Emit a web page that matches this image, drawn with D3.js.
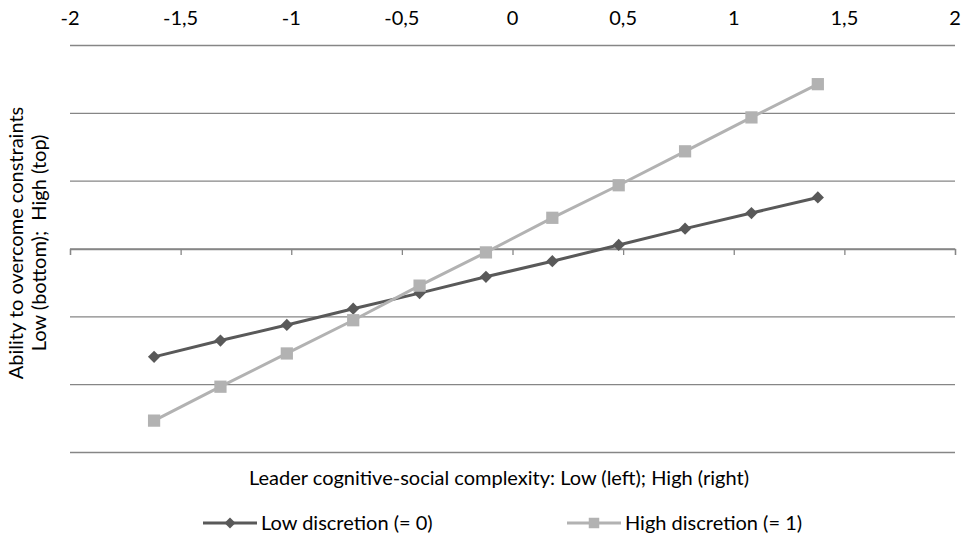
<!DOCTYPE html>
<html>
<head>
<meta charset="utf-8">
<script src="https://cdn.jsdelivr.net/npm/d3@7"></script>
<style>
  body { margin: 0; background: #fff; }
  text { font-family: Lato, "Open Sans", sans-serif; fill: #000; }
</style>
</head>
<body>
<svg id="chart"></svg>
<script>
// data
const xValues = [-1.62, -1.32, -1.02, -0.72, -0.42, -0.12, 0.18, 0.48, 0.78, 1.08, 1.38];
const lowDiscretion = [-1.59, -1.35, -1.12, -0.88, -0.65, -0.41, -0.18, 0.06, 0.30, 0.53, 0.76];
const highDiscretion = [-2.53, -2.03, -1.54, -1.05, -0.54, -0.05, 0.46, 0.94, 1.44, 1.94, 2.43];
const xTicks = [-2, -1.5, -1, -0.5, 0, 0.5, 1, 1.5, 2];
const yGrid = [-3, -2, -1, 0, 1, 2, 3];
const seriesNames = ["Low discretion (= 0)", "High discretion (= 1)"];

const width = 968, height = 541;
const margin = { top: 46, right: 13, bottom: 89, left: 70 };
const fontSize = 20;

const svg = d3.select("#chart")
    .attr("width", width)
    .attr("height", height);

const x = d3.scaleLinear()
    .domain([-2, 2])
    .range([margin.left, width - margin.right]);

const y = d3.scaleLinear()
    .domain([-3, 3])
    .range([height - margin.bottom + 0.5, margin.top - 0.5]);

const fmt = d => String(d).replace(".", ",");

// gridlines
svg.append("g")
    .selectAll("line")
    .data(yGrid)
    .join("line")
    .attr("x1", x(-2))
    .attr("x2", x(2))
    .attr("y1", d => y(d))
    .attr("y2", d => y(d))
    .attr("stroke", "#868686")
    .attr("stroke-width", 1.3);

// x axis line at y = 0, ticks pointing down
const xAxis = svg.append("g")
    .attr("transform", `translate(0,${y(0)})`)
    .call(d3.axisBottom(x).tickValues(xTicks).tickSize(6).tickFormat(""));
xAxis.select(".domain").attr("stroke", "#868686").attr("stroke-width", 1.3);
xAxis.selectAll(".tick line").attr("stroke", "#868686").attr("stroke-width", 1.3);

// tick labels on top
svg.append("g")
    .selectAll("text")
    .data(xTicks)
    .join("text")
    .attr("x", d => x(d))
    .attr("y", 25)
    .attr("text-anchor", "middle")
    .attr("font-size", fontSize)
    .text(fmt);

const line = d3.line()
    .x((d, i) => x(xValues[i]))
    .y(d => y(d));

const lowColor = "#595959", highColor = "#b2b2b2";

// rotated square for the diamond, like the spreadsheet marker
function drawSeries(values, color, rot, size) {
    const g = svg.append("g");
    g.append("path")
        .datum(values)
        .attr("d", line)
        .attr("fill", "none")
        .attr("stroke", color)
        .attr("stroke-width", 3);
    g.selectAll("path.pt")
        .data(values)
        .join("path")
        .attr("class", "pt")
        .attr("transform", (d, i) => `translate(${x(xValues[i])},${y(d)}) rotate(${rot})`)
        .attr("d", d3.symbol().type(d3.symbolSquare).size(size))
        .attr("fill", color);
}

drawSeries(lowDiscretion, lowColor, 45, 75);
drawSeries(highDiscretion, highColor, 0, 150);

// axis titles
svg.append("text")
    .attr("x", 499)
    .attr("y", 485)
    .attr("text-anchor", "middle")
    .attr("font-size", fontSize)
    .text("Leader cognitive-social complexity: Low (left); High (right)");

const yTitle = svg.append("text")
    .attr("transform", "translate(23,243) rotate(-90)")
    .attr("text-anchor", "middle")
    .attr("font-size", fontSize)
    .attr("xml:space", "preserve");
yTitle.append("tspan").attr("x", 0).attr("dy", 0).text("Ability to overcome constraints");
yTitle.append("tspan").attr("x", 0).attr("dy", 23).text("Low (bottom);\u00a0 High (top)");

// legend
const legend = svg.append("g").attr("transform", "translate(0,523)");
const legendItems = [
    { name: seriesNames[0], color: lowColor, rot: 45, size: 60, x0: 203 },
    { name: seriesNames[1], color: highColor, rot: 0, size: 110, x0: 567 }
];
legendItems.forEach(it => {
    legend.append("line")
        .attr("x1", it.x0).attr("x2", it.x0 + 54)
        .attr("y1", 0).attr("y2", 0)
        .attr("stroke", it.color).attr("stroke-width", 3);
    legend.append("path")
        .attr("transform", `translate(${it.x0 + 27},0) rotate(${it.rot})`)
        .attr("d", d3.symbol().type(d3.symbolSquare).size(it.size))
        .attr("fill", it.color);
    legend.append("text")
        .attr("x", it.x0 + 58)
        .attr("y", 7)
        .attr("font-size", fontSize)
        .text(it.name);
});
</script>
</body>
</html>
